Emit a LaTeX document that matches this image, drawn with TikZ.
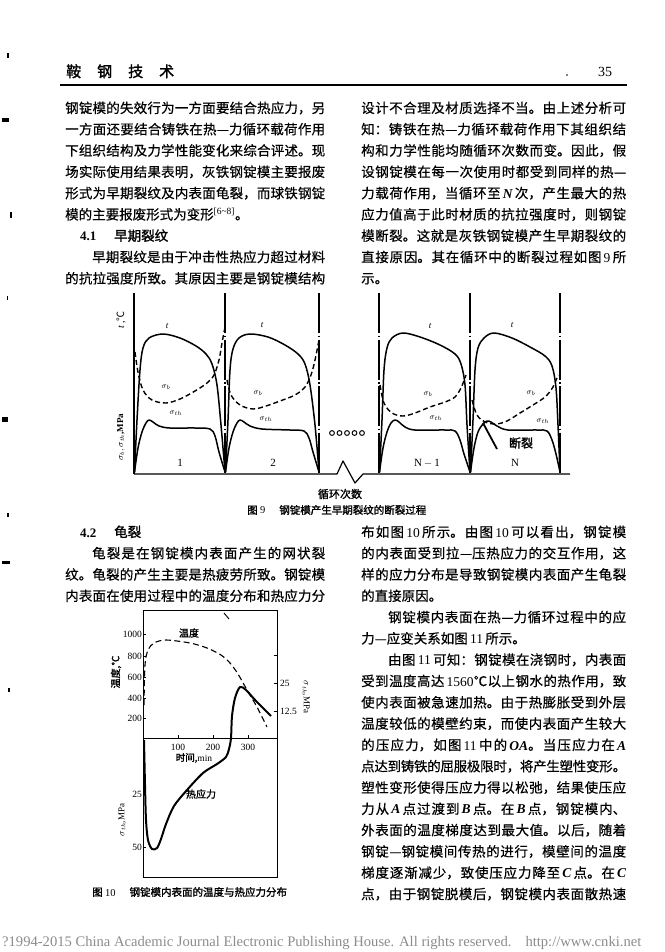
\documentclass[tikz,border=0pt]{standalone}
\usepackage{fontspec}
\setmainfont{Noto Sans CJK SC}
\newfontfamily\lat{Liberation Serif}
\newfontfamily\cjk{Noto Sans CJK SC}
\newfontfamily\cjkt[FakeBold=0.5]{Noto Sans CJK SC}
\newfontfamily\cjkb[FakeBold=1.5]{Noto Sans CJK SC}
\XeTeXlinebreaklocale "zh"
\XeTeXlinebreakskip=0pt plus 4pt minus 0.8pt
\newcommand\justline[2]{\parbox[b]{#1}{\tolerance=10000\hbadness=10000\emergencystretch=20pt\parfillskip=0pt\relax #2}}
\newcommand\bodyfont{\cjkt\fontsize{13.5pt}{16pt}\selectfont}
\newcommand\setfs[1]{\fontsize{#1}{#1}\selectfont}
\begin{document}
\begin{tikzpicture}[x=1pt,y=-1pt,
  txt/.style={anchor=base west,inner sep=0pt,font=\bodyfont},
  head/.style={anchor=base west,inner sep=0pt},
  crv/.style={line width=1.5pt,line join=round,line cap=round},
  dcrv/.style={line width=1.4pt,dash pattern=on 5pt off 3pt},
  chainln/.style={line width=1.1pt,dash pattern=on 40pt off 2.5pt on 1.5pt off 2.5pt},
  tl/.style={inner sep=0pt,font=\lat\itshape\setfs{9pt}},
  sl/.style={inner sep=0pt,font=\setfs{8pt}},
  cyc/.style={inner sep=0pt,font=\lat\setfs{11pt}},
  ax/.style={inner sep=0pt,font=\lat\setfs{9pt}},
  figcap/.style={inner sep=0pt,font=\cjkb\setfs{10.5pt}},
  blob/.style={fill=black}]
\fill[white] (0,0) rectangle (664,952);
\path[use as bounding box] (0,0) rectangle (664,952);

% margin marks
\fill[blob] (7,53) rectangle (9,58);
\fill[blob] (2,118) rectangle (9,122);
\fill[blob] (10,212) rectangle (12,218);
\fill[blob] (7,296) rectangle (8,300);
\fill[blob] (2,417) rectangle (8,422);
\fill[blob] (7,513) rectangle (9,517);
\fill[blob] (2,561) rectangle (10,564);
\fill[blob] (8,688) rectangle (10,692);

% header
\node[head,font=\cjkb\setfs{15pt}] (hd) at (66,77) {鞍\hspace{16pt}钢\hspace{16pt}技\hspace{16pt}术};
\node[head,font=\lat\setfs{14pt}] (pg) at (598,77) {35};
\fill (567,75) circle (0.9);
\draw[line width=1.6pt] (60,85) -- (627,85);

% left column top
\node[txt] (L1) at (65,113) {\justline{260pt}{钢锭模的失效行为一方面要结合热应力，另}};
\node[txt] (L2) at (65,134.3) {\justline{260pt}{一方面还要结合铸铁在热—力循环载荷作用}};
\node[txt] (L3) at (65,155.6) {\justline{260pt}{下组织结构及力学性能变化来综合评述。现}};
\node[txt] (L4) at (65,176.9) {\justline{260pt}{场实际使用结果表明，灰铁钢锭模主要报废}};
\node[txt] (L5) at (65,198.2) {\justline{260pt}{形式为早期裂纹及内表面龟裂，而球铁钢锭}};
\node[txt] (L6) at (65,219.5) {模的主要报废形式为变形\textsuperscript{\lat[6\textasciitilde8]}。};
\node[head,font=\lat\bfseries\setfs{13pt}] (L7a) at (80,240.8) {4.1};
\node[head,font=\cjkb\setfs{13.5pt}] (L7b) at (114,240.8) {早期裂纹};
\node[txt] (L8) at (65,262.1) {\justline{260pt}{\hspace*{27pt}早期裂纹是由于冲击性热应力超过材料}};
\node[txt] (L9) at (65,283.4) {\justline{260pt}{的抗拉强度所致。其原因主要是钢锭模结构}};

% right column top
\node[txt] (R1) at (361,113) {\justline{265pt}{设计不合理及材质选择不当。由上述分析可}};
\node[txt] (R2) at (361,134.3) {\justline{265pt}{知：铸铁在热—力循环载荷作用下其组织结}};
\node[txt] (R3) at (361,155.6) {\justline{265pt}{构和力学性能均随循环次数而变。因此，假}};
\node[txt] (R4) at (361,176.9) {\justline{265pt}{设钢锭模在每一次使用时都受到同样的热—}};
\node[txt] (R5) at (361,198.2) {\justline{265pt}{力载荷作用，当循环至\,{\lat\bfseries\itshape N}\,次，产生最大的热}};
\node[txt] (R6) at (361,219.5) {\justline{265pt}{应力值高于此时材质的抗拉强度时，则钢锭}};
\node[txt] (R7) at (361,240.8) {\justline{265pt}{模断裂。这就是灰铁钢锭模产生早期裂纹的}};
\node[txt] (R8) at (361,262.1) {\justline{265pt}{直接原因。其在循环中的断裂过程如图\,{\lat 9}\,所}};
\node[txt] (R9) at (361,283.4) {示。};

% ---------- Figure 9 ----------
\draw[line width=1.2pt] (134,293) -- (134,474);
\foreach \xx in {225,319,379,470,560} \draw[chainln] (\xx,293) -- (\xx,474);
\draw[line width=1.2pt,line join=round] (134,474) -- (337,474) -- (343,461) -- (355,483) -- (363,474) -- (570,474);

% cycle 1
\draw[crv] plot[smooth,tension=0.55] coordinates {(134.5,472) (137,420) (140,370) (143,348) (149,338) (163,334) (180,338) (196,346) (206,354) (212,364) (217,385) (221,425) (225,472)};
\draw[crv] plot[smooth,tension=0.55] coordinates {(134.5,472) (138,448) (142,432) (146,423) (149,420) (153,422) (159,426) (170,428) (195,428) (210,429) (215,436) (219,452) (225,472)};
\draw[dcrv] plot[smooth,tension=0.55] coordinates {(135,352) (138,372) (143,390) (152,400) (166,403) (180,399) (195,391) (207,383) (214,375) (219,360) (222,343) (225,327)};
% cycle 2
\draw[crv] plot[smooth,tension=0.55] coordinates {(225.5,472) (228,420) (230,370) (233,349) (239,338) (250,334) (268,337) (285,345) (298,354) (305,364) (310,385) (315,425) (319,472)};
\draw[crv] plot[smooth,tension=0.55] coordinates {(225.5,472) (229,448) (233,432) (237,423) (240,420) (244,422) (250,426) (262,429) (290,430) (304,431) (309,438) (313,452) (319,472)};
\draw[dcrv] plot[smooth,tension=0.55] coordinates {(227,380) (231,395) (240,405) (253,409) (266,406) (280,401) (295,395) (305,387) (311,375) (315,360) (319,340)};
% cycle N-1
\draw[crv] plot[smooth,tension=0.55] coordinates {(379.5,472) (382,420) (384,370) (387,348) (392,338) (403,333) (420,337) (440,345) (455,354) (461,364) (465,385) (467,425) (470,472)};
\draw[crv] plot[smooth,tension=0.55] coordinates {(379.5,472) (383,448) (387,432) (391,423) (395,420) (399,422) (405,427) (415,430) (445,430) (455,431) (460,440) (464,454) (470,472)};
\draw[dcrv] plot[smooth,tension=0.55] coordinates {(380,385) (384,403) (392,413) (403,416) (415,413) (430,407) (445,402) (455,397) (461,388) (466,375)};
% cycle N
\draw[crv] plot[smooth,tension=0.55] coordinates {(470.5,472) (473,420) (475,370) (478,348) (484,338) (494,333) (512,338) (530,347) (545,356) (552,366) (556,388) (558,425) (560,472)};
\draw[crv] plot[smooth,tension=0.55] coordinates {(470.5,472) (474,448) (478,432) (483,424) (487,421) (491,422) (497,426) (508,430) (537,430) (547,431) (552,440) (556,454) (560,472)};
\draw[dcrv] plot[smooth,tension=0.55] coordinates {(472,400) (477,415) (485,422) (496,424) (507,421) (520,413) (533,405) (545,397) (553,387) (558,375)};

% crack
\draw[line width=1.8pt] (483,423) -- (497,449);
\node[inner sep=0pt,font=\cjkb\setfs{12pt}] (crack) at (521,443) {断裂};

% labels fig 9
\node[tl] (t1) at (167,326) {t};
\node[tl] (t2) at (262,325) {t};
\node[tl] (t3) at (430,326) {t};
\node[tl] (t4) at (512,325) {t};
\node[sl] (b1) at (166,387) {$\sigma_b$};
\node[sl] (b2) at (258,393) {$\sigma_b$};
\node[sl] (b3) at (428,394) {$\sigma_b$};
\node[sl] (b4) at (531,393) {$\sigma_b$};
\node[sl] (h1) at (176,413) {$\sigma_{th}$};
\node[sl] (h2) at (266,419) {$\sigma_{th}$};
\node[sl] (h3) at (436,418) {$\sigma_{th}$};
\node[sl] (h4) at (543,421) {$\sigma_{th}$};
\node[cyc] (c1) at (180,463) {1};
\node[cyc] (c2) at (273,463) {2};
\node[cyc] (c3) at (427,463) {N$\,-\,$1};
\node[cyc] (c4) at (515,463) {N};
\node[ax,rotate=90,font=\lat\setfs{10pt}] (ya) at (121,320) {{\itshape t} ,{\cjk ℃}};
\node[ax,rotate=90,font=\lat\bfseries\setfs{9pt}] (yb) at (121,437) {$\sigma_b,\sigma_{th}$,MPa};
\foreach \cx in {332,339.5,347,354.5,362} \draw[line width=1pt] (\cx,433) circle (2.4);
\node[inner sep=0pt,font=\cjkb\setfs{11pt}] (xl) at (340,494) {循环次数};
\node[figcap,anchor=west] (cap9) at (247,510) {图 {\lat 9}\hspace{14pt}钢锭模产生早期裂纹的断裂过程};

% left column bottom
\node[head,font=\lat\bfseries\setfs{13pt}] (S2a) at (80,537) {4.2};
\node[head,font=\cjkb\setfs{13.5pt}] (S2b) at (114,537) {龟裂};
\node[txt] (M1) at (65,558.3) {\justline{260pt}{\hspace*{27pt}龟裂是在钢锭模内表面产生的网状裂}};
\node[txt] (M2) at (65,579.6) {\justline{260pt}{纹。龟裂的产生主要是热疲劳所致。钢锭模}};
\node[txt] (M3) at (65,600.9) {\justline{260pt}{内表面在使用过程中的温度分布和热应力分}};

% right column bottom
\node[txt] (N1) at (361,537) {\justline{265pt}{布如图\,{\lat 10}\,所示。由图\,{\lat 10}\,可以看出，钢锭模}};
\node[txt] (N2) at (361,558.3) {\justline{265pt}{的内表面受到拉—压热应力的交互作用，这}};
\node[txt] (N3) at (361,579.6) {\justline{265pt}{样的应力分布是导致钢锭模内表面产生龟裂}};
\node[txt] (N4) at (361,600.9) {的直接原因。};
\node[txt] (N5) at (361,622.2) {\justline{265pt}{\hspace*{27pt}钢锭模内表面在热—力循环过程中的应}};
\node[txt] (N6) at (361,643.5) {力—应变关系如图\,{\lat 11}\,所示。};
\node[txt] (N7) at (361,664.8) {\justline{265pt}{\hspace*{27pt}由图\,{\lat 11}\,可知：钢锭模在浇钢时，内表面}};
\node[txt] (N8) at (361,686.1) {\justline{265pt}{受到温度高达\,{\lat 1560}℃以上钢水的热作用，致}};
\node[txt] (N9) at (361,707.4) {\justline{265pt}{使内表面被急速加热。由于热膨胀受到外层}};
\node[txt] (N10) at (361,728.7) {\justline{265pt}{温度较低的模壁约束，而使内表面产生较大}};
\node[txt] (N11) at (361,750) {\justline{265pt}{的压应力，如图\,{\lat 11}\,中的\,{\lat\bfseries\itshape OA}。当压应力在\,{\lat\bfseries\itshape A}}};
\node[txt] (N12) at (361,771.3) {\justline{265pt}{点达到铸铁的屈服极限时，将产生塑性变形。}};
\node[txt] (N13) at (361,792.6) {\justline{265pt}{塑性变形使得压应力得以松弛，结果使压应}};
\node[txt] (N14) at (361,813.9) {\justline{265pt}{力从\,{\lat\bfseries\itshape A}\,点过渡到\,{\lat\bfseries\itshape B}\,点。在\,{\lat\bfseries\itshape B}\,点，钢锭模内、}};
\node[txt] (N15) at (361,835.2) {\justline{265pt}{外表面的温度梯度达到最大值。以后，随着}};
\node[txt] (N16) at (361,856.5) {\justline{265pt}{钢锭—钢锭模间传热的进行，模壁间的温度}};
\node[txt] (N17) at (361,877.8) {\justline{265pt}{梯度逐渐减少，致使压应力降至\,{\lat\bfseries\itshape C}\,点。在\,{\lat\bfseries\itshape C}}};
\node[txt] (N18) at (361,899.1) {\justline{265pt}{点，由于钢锭脱模后，钢锭模内表面散热速}};

% ---------- Figure 10 ----------
\draw[line width=0.9pt] (143,610) rectangle (277,877);
\draw[line width=0.9pt] (143,738) -- (277,738);
\draw[line width=0.9pt] (224,613) -- (229,619);
\foreach \tx/\tt in {178/100,213/200,248/300} {
  \draw[line width=0.8pt] (\tx,738) -- (\tx,735);
  \node[ax,font=\lat\setfs{9.5pt}] at (\tx,747) {\tt};
}
\foreach \ty/\tt in {634/1000,656/800,677/600,698/400,718/200} {
  \draw[line width=0.8pt] (143,\ty) -- (146,\ty);
  \node[ax,anchor=east,font=\lat\setfs{9.5pt}] at (142,\ty) {\tt};
}
\foreach \ty in {655,683,711} \draw[line width=0.8pt] (277,\ty) -- (274,\ty);
\node[ax,anchor=west,font=\lat\setfs{9.5pt}] (r25) at (280,683) {25};
\node[ax,anchor=west,font=\lat\setfs{9.5pt}] (r12) at (280,711) {12.5};
\foreach \ty/\tt in {794/25,847/50} {
  \draw[line width=0.8pt] (143,\ty) -- (146,\ty);
  \node[ax,anchor=east,font=\lat\setfs{9.5pt}] at (142,\ty) {\tt};
}
\node[inner sep=0pt,font=\cjkb\setfs{9.5pt}] (tm) at (194,758) {时间,{\lat min}};
\node[inner sep=0pt,font=\cjkb\setfs{10pt}] (wd) at (189,633) {温度};
\node[inner sep=0pt,font=\cjkb\setfs{10pt}] (ry) at (201,794) {热应力};
\node[inner sep=0pt,font=\cjkb\setfs{10pt},rotate=90] (yl1) at (116,672) {温度,℃};
\node[ax,rotate=-90,font=\lat\setfs{9pt}] (yl2) at (306,697) {$\sigma_{th}$,MPa};
\node[ax,rotate=90,font=\lat\setfs{9pt}] (yl3) at (122,820) {$\sigma_{th}$,MPa};
\draw[line width=1.1pt,dash pattern=on 6pt off 3.5pt] plot[smooth,tension=0.5] coordinates {(144,705) (145,665) (148,650) (154,643) (166,640) (190,643) (207,648) (221,655) (230,663) (238,674) (247,690) (257,707) (267,727)};
\draw[line width=2pt,line join=round] plot[smooth,tension=0.5] coordinates {(144,740) (145,785) (146,820) (148,840) (152,849) (157,848) (161,839) (166,824) (174,806) (187,790) (203,773) (217,764) (226,757) (229,749) (231,738) (232,716) (235,698) (240,687) (246,690) (256,701) (271,716)};
\node[figcap,anchor=west] (cap10) at (92,892) {图 {\lat 10}\hspace{14pt}钢锭模内表面的温度与热应力分布};

% footer
\node[inner sep=0pt,anchor=west,text=black!45,font=\lat\setfs{14.6pt}] (foot) at (2,943) {?1994-2015 China Academic Journal Electronic Publishing House. All rights reserved.\hspace{14pt}http://www.cnki.net};
\end{tikzpicture}
\end{document}
